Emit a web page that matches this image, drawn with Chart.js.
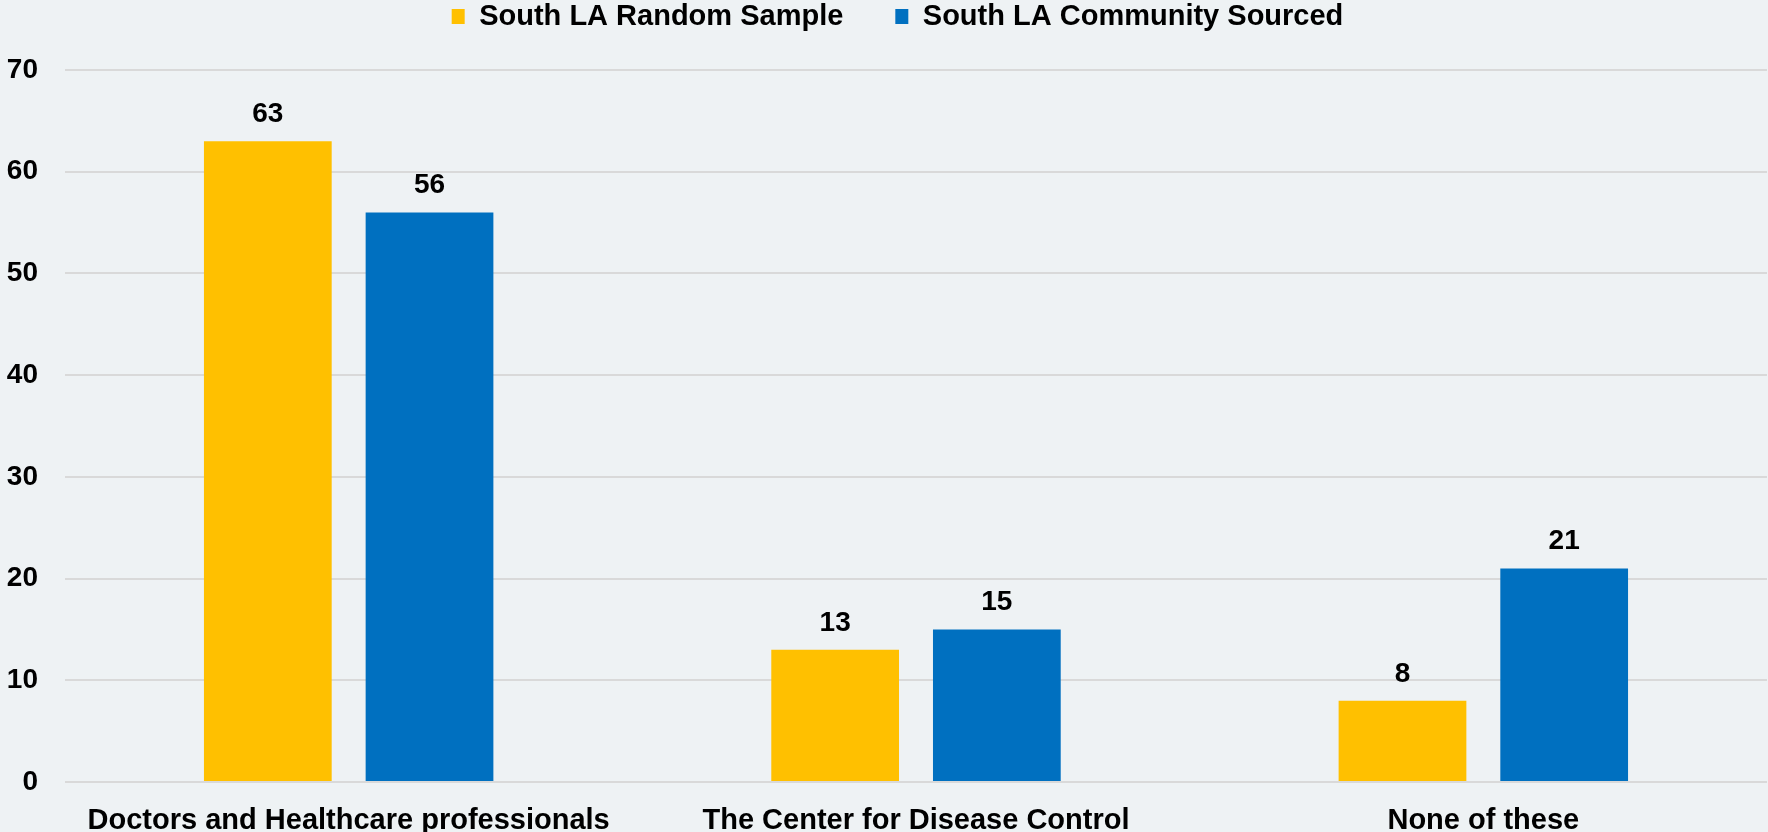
<!DOCTYPE html>
<html>
<head>
<meta charset="utf-8">
<title>South LA - Trusted sources</title>
<script src="https://cdn.jsdelivr.net/npm/chart.js@4/dist/chart.umd.min.js"></script>
<style>
    html, body { margin: 0; padding: 0; background: #EEF2F4; }
    #wrap { width: 1768px; height: 832px; position: relative; }
</style>
</head>
<body>
<div id="wrap"><canvas id="grafico"></canvas></div>
<script>
// datos del gráfico
const categorias = ['Doctors and Healthcare professionals', 'The Center for Disease Control', 'None of these'];
const randomSample = [63, 13, 8];
const communitySourced = [56, 15, 21];
const ticksY = [0, 10, 20, 30, 40, 50, 60, 70];

(function () {
    'use strict';

    const fuente = "'Liberation Sans', Arial, sans-serif";
    const colores = {
        amarillo: '#FFC000',
        azul: '#0070C0',
        grilla: '#D9D9D9'
    };

    // etiquetas de valor sobre cada barra
    const etiquetasValor = {
        id: 'etiquetasValor',
        afterDatasetsDraw: function (chart) {
            const ctx = chart.ctx;
            ctx.save();
            ctx.font = 'bold 28px ' + fuente;
            ctx.fillStyle = '#000';
            ctx.textAlign = 'center';
            ctx.textBaseline = 'alphabetic';
            chart.data.datasets.forEach(function (ds, i) {
                chart.getDatasetMeta(i).data.forEach(function (bar, j) {
                    ctx.fillText(String(ds.data[j]), bar.x, bar.y - 19);
                });
            });
            ctx.restore();
        }
    };

    // la leyenda ocupa todo el alto sobre el area del grafico
    const margenLeyenda = {
        id: 'margenLeyenda',
        beforeInit: function (chart) {
            const leyenda = chart.legend;
            const fit = leyenda.fit;
            const dibujar = leyenda._draw;
            leyenda.fit = function () {
                fit.call(this);
                this.height = 70;
            };
            // se sube el contenido (el recorte ya está puesto en draw)
            leyenda._draw = function () {
                const ctx = chart.ctx;
                ctx.save();
                ctx.translate(14, -50);
                dibujar.call(this);
                ctx.restore();
            };
        }
    };

    new Chart(document.getElementById('grafico'), {
        type: 'bar',
        data: {
            labels: categorias,
            datasets: [{
                label: 'South LA Random Sample',
                data: randomSample,
                backgroundColor: colores.amarillo,
                barPercentage: 0.79,
                categoryPercentage: 0.57
            }, {
                label: 'South LA Community Sourced',
                data: communitySourced,
                backgroundColor: colores.azul,
                barPercentage: 0.79,
                categoryPercentage: 0.57
            }]
        },
        options: {
            responsive: true,
            maintainAspectRatio: false,
            animation: false,
            layout: { padding: { left: 0, right: 1, top: 0, bottom: 0 } },
            plugins: {
                tooltip: { enabled: false },
                legend: {
                    position: 'top',
                    labels: {
                        color: '#000',
                        font: { family: fuente, size: 29, weight: 'bold' },
                        boxWidth: 13,
                        boxHeight: 15,
                        padding: 52
                    }
                }
            },
            scales: {
                x: {
                    afterFit: function (scale) { scale.height = 50; },
                    grid: { display: false },
                    border: { display: false },
                    ticks: {
                        color: '#000',
                        font: { family: fuente, size: 29, weight: 'bold' },
                        padding: 14,
                        maxRotation: 0,
                        autoSkip: false
                    }
                },
                y: {
                    min: 0,
                    max: 70,
                    afterFit: function (scale) { scale.width = 65; },
                    afterBuildTicks: function (scale) {
                        scale.ticks = ticksY.map(function (v) { return { value: v }; });
                    },
                    grid: { color: colores.grilla, lineWidth: 2, drawTicks: false },
                    border: { display: false },
                    ticks: {
                        color: '#000',
                        font: { family: fuente, size: 28, weight: 'bold' },
                        padding: 27
                    }
                }
            }
        },
        plugins: [etiquetasValor, margenLeyenda]
    });
})();
</script>
</body>
</html>
